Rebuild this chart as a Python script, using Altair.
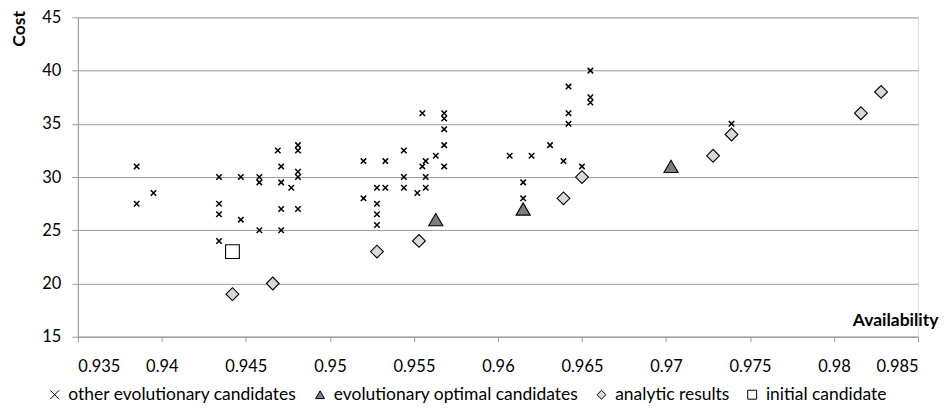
import altair as alt
import pandas as pd

# other evolutionary candidates
other_x = [0.9385, 0.9385, 0.9395, 0.9434, 0.9434, 0.9434, 0.9434, 0.9447, 0.9447,
           0.9458, 0.9458, 0.9458, 0.9469, 0.9471, 0.9471, 0.9471, 0.9471, 0.9477,
           0.9481, 0.9481, 0.9481, 0.9481, 0.9481, 0.9520, 0.9520, 0.9528, 0.9528,
           0.9528, 0.9528, 0.9533, 0.9533, 0.9544, 0.9544, 0.9544, 0.9552, 0.9555,
           0.9555, 0.9557, 0.9557, 0.9557, 0.9563, 0.9568, 0.9568, 0.9568, 0.9568,
           0.9568, 0.9607, 0.9615, 0.9615, 0.9620, 0.9631, 0.9639, 0.9642, 0.9642,
           0.9642, 0.9650, 0.9655, 0.9655, 0.9655, 0.9739]
other_y = [31, 27.5, 28.5, 30, 27.5, 26.5, 24, 30, 26,
           30, 29.5, 25, 32.5, 31, 29.5, 27, 25, 29,
           33, 32.5, 30.5, 30, 27, 31.5, 28, 29, 27.5,
           26.5, 25.5, 31.5, 29, 32.5, 30, 29, 28.5, 36,
           31, 31.5, 30, 29, 32, 36, 35.5, 34.5, 33,
           31, 32, 29.5, 28, 32, 33, 31.5, 38.5, 36,
           35, 31, 40, 37.5, 37, 35]

# evolutionary optimal candidates
opt_x = [0.9563, 0.9615, 0.9703]
opt_y = [26, 27, 31]

# analytic results
ana_x = [0.9442, 0.9466, 0.9528, 0.9553, 0.9639, 0.9650, 0.9728, 0.9739, 0.9816, 0.9828]
ana_y = [19, 20, 23, 24, 28, 30, 32, 34, 36, 38]

# initial candidate
init_x = [0.9442]
init_y = [23]

series_names = ["other evolutionary candidates", "evolutionary optimal candidates",
                "analytic results", "initial candidate"]
x_ticks = [0.935, 0.94, 0.945, 0.95, 0.955, 0.96, 0.965, 0.97, 0.975, 0.98, 0.985]
y_ticks = [15, 20, 25, 30, 35, 40, 45]

rows = []
for name, xs, ys in zip(series_names, [other_x, opt_x, ana_x, init_x],
                        [other_y, opt_y, ana_y, init_y]):
    for a, c in zip(xs, ys):
        rows.append({"Availability": a, "Cost": c, "series": name})
df = pd.DataFrame(rows)

FONT = "Lato"
GRID = "#9a9a9a"
XSHAPE = "M-1,-1L1,1M1,-1L-1,1"
marker_sizes = [30, 200, 165, 190]
marker_strokes = [1.5, 1.1, 1.1, 1.1]

x_enc = alt.X("Availability:Q",
              scale=alt.Scale(domain=[0.935, 0.985], nice=False, zero=False),
              axis=alt.Axis(values=x_ticks, format="~g", grid=False,
                            tickSize=5, tickColor=GRID, domainColor=GRID,
                            labelPadding=17, labelFontSize=16.5, labelFont=FONT,
                            labelColor="#000", title="Availability",
                            titleFont=FONT, titleFontSize=17.5, titleFontWeight="bold",
                            titleX=862, titleY=-16, titleAlign="right",
                            titleBaseline="middle", titleColor="#000"))
y_enc = alt.Y("Cost:Q",
              scale=alt.Scale(domain=[15, 45], nice=False, zero=False),
              axis=alt.Axis(values=y_ticks, grid=True, gridColor=GRID,
                            tickSize=6, tickColor=GRID, domainColor=GRID,
                            labelPadding=11, labelFontSize=16.5, labelFont=FONT,
                            labelColor="#000", title="Cost",
                            titleFont=FONT, titleFontSize=17.5, titleFontWeight="bold",
                            titleX=-58, titleY=11, titleAngle=-90, titleAlign="center",
                            titleBaseline="middle", titleColor="#000"))
shape_enc = alt.Shape("series:N",
                      scale=alt.Scale(domain=series_names,
                                      range=[XSHAPE, "triangle-up", "diamond", "square"]),
                      legend=alt.Legend(title=None))
fill_enc = alt.Fill("series:N",
                    scale=alt.Scale(domain=series_names,
                                    range=["transparent", "#7f7f7f", "#d9d9d9", "#ffffff"]),
                    legend=alt.Legend(title=None))
stroke_enc = alt.Stroke("series:N",
                        scale=alt.Scale(domain=series_names,
                                        range=["#000000", "#000000", "#000000", "#000000"]),
                        legend=alt.Legend(title=None))

layers = []
for name, sz, sw in zip(series_names, marker_sizes, marker_strokes):
    layers.append(
        alt.Chart(df).transform_filter(alt.datum.series == name)
        .mark_point(filled=True, opacity=1, strokeWidth=sw, size=sz)
        .encode(x=x_enc, y=y_enc, shape=shape_enc, fill=fill_enc, stroke=stroke_enc)
    )

chart = alt.layer(*layers).properties(
    width=842, height=320,
    autosize=alt.AutoSizeParams(type="none"),
    padding={"left": 70, "top": 9, "right": 23, "bottom": 67},
).configure_view(stroke=None).configure(font=FONT).configure_legend(
    orient="none", direction="horizontal", legendX=-32, legendY=369,
    symbolSize=80, symbolStrokeWidth=1, labelFont=FONT, labelFontSize=17.5,
    labelColor="#000", labelOffset=5, columnPadding=14, labelLimit=400,
)

chart.save("out.html", embed_options={"renderer": "svg", "actions": False})
